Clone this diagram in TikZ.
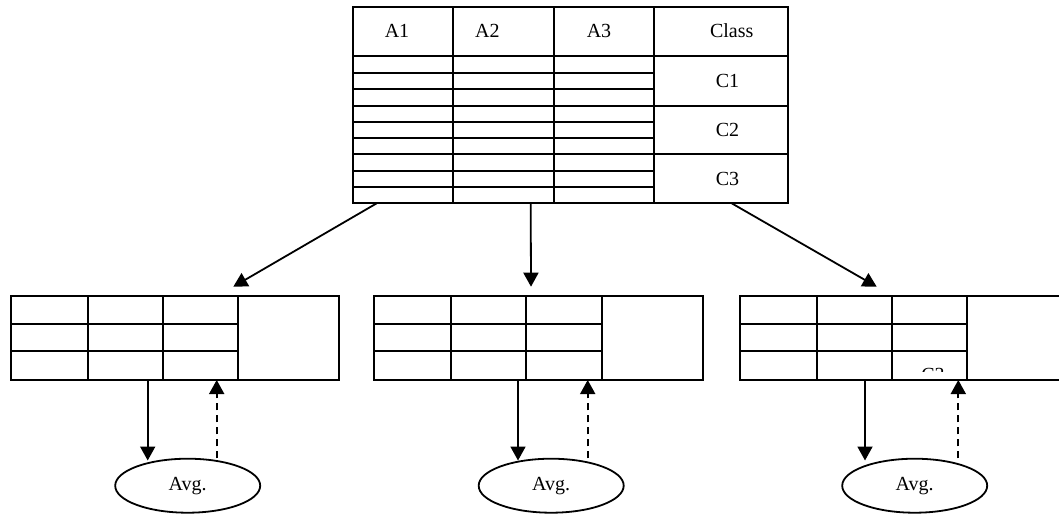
\documentclass[tikz,border=0pt]{standalone}
\usepackage{fontspec}
\setmainfont{Liberation Serif}
\usetikzlibrary{arrows.meta,shapes.geometric,calc}
\begin{document}
\begin{tikzpicture}[x=1pt,y=-1pt,
  rule/.style={line width=1.8pt},
  frame/.style={draw, rectangle, line width=1.8pt, inner sep=0pt, outer sep=0pt, anchor=north west},
  lbl/.style={font=\fontsize{20}{24}\selectfont, anchor=base, inner sep=0pt},
  avg/.style={draw, ellipse, line width=1.8pt, minimum width=145pt, minimum height=54pt,
    inner sep=0pt, font=\fontsize{20}{24}\selectfont},
  tip/.style={-{Triangle[length=14pt,width=15pt]}, line width=1.8pt},
  back/.style={tip, dash pattern=on 7pt off 5pt},
]
\useasboundingbox (0,0) rectangle (1059,515);
\clip (0,0) rectangle (1059,515);

% ---------- full data set ----------
\node[frame, minimum width=435.3pt, minimum height=196pt] (main) at (352.7,7.3) {};
\foreach \x in {453.3,553.7,654.3}
  \draw[rule] (\x,7.3) -- (\x,203.3);
\draw[rule] (352.7,55.7) -- (788,55.7);
\foreach \y in {72.7,89.3,121.7,137.7,170.7,186.7}
  \draw[rule] (352.7,\y) -- (654.3,\y);
\foreach \y in {105.7,154.3}
  \draw[rule] (352.7,\y) -- (788,\y);

\node[lbl] (hA1) at (397,37.3) {A1};
\node[lbl] (hA2) at (487.4,37.3) {A2};
\node[lbl] (hA3) at (599,37.3) {A3};
\node[lbl] (hcl) at (731.7,37.3) {Class};
\node[lbl] (c1) at (727.5,87.3) {C1};
\node[lbl] (c2) at (727.5,136.7) {C2};
\node[lbl] (c3) at (727.5,185.7) {C3};

% ---------- per-class subsets ----------
\foreach \i/\x in {1/11,2/374.3,3/740} {
  \node[frame, minimum width=328.3pt, minimum height=84pt] (t\i) at (\x,296) {};
  \foreach \dx in {76.7,152,227.3}
    \draw[rule] (\x+\dx,296) -- (\x+\dx,380);
  \foreach \y in {324,351}
    \draw[rule] (\x,\y) -- (\x+227.3,\y);
}

% partly hidden class label in the third subset
\begin{scope}
  \clip (900,360) rectangle (960,371.5);
  \node[lbl] (c3b) at (933,381.2) {C3};
\end{scope}

% ---------- averaging nodes ----------
\node[avg] (e1) at (187.7,485.7) {Avg.};
\node[avg] (e2) at (551.2,485.7) {Avg.};
\node[avg] (e3) at (914.7,485.7) {Avg.};

% ---------- split arrows ----------
\draw[tip] ($(main.south west)+(24,0)$) -- ($(t1.north west)+(222.3,-9.3)$);
\draw[tip] ($(main.south west)+(178,0)$) -- ($(t2.north west)+(156.7,-9.3)$);
\draw[tip] ($(main.south west)+(379,0)$) -- ($(t3.north west)+(136.7,-9.3)$);

% ---------- averaging and feedback ----------
\foreach \i/\s/\d in {1/136.7/205.7, 2/143.7/213.4, 3/125/218.3} {
  \draw[tip] ($(t\i.south west)+(\s,0)$) -- ($(e\i.north -| t\i.south west)+(\s,2.7)$);
  \draw[back] ($(e\i.north -| t\i.south west)+(\d,0.5)$) -- ($(t\i.south west)+(\d,0)$);
}
\end{tikzpicture}
\end{document}
